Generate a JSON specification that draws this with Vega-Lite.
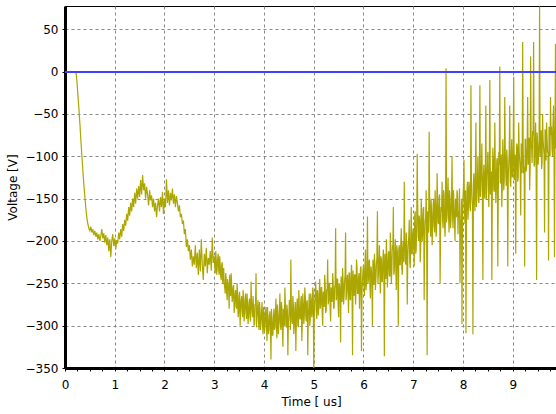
{
"$schema": "https://vega.github.io/schema/vega-lite/v6.json",
"width": 492,
"height": 362,
"autosize": {"type": "none"},
"padding": {"left": 65, "top": 6, "right": 0, "bottom": 46},
"background": "white",
"config": {
  "view": {"stroke": "black", "strokeWidth": 1},
  "axis": {
    "labelFont": "DejaVu Sans", "labelFontSize": 12, "labelColor": "black",
    "titleFont": "DejaVu Sans", "titleFontSize": 12, "titleFontWeight": "normal", "titleColor": "black",
    "domainColor": "black", "domainWidth": 3,
    "tickColor": "black", "tickSize": 3, "tickWidth": 1,
    "gridColor": "#888888", "gridDash": [3, 3], "gridWidth": 1
  }
},
"data": {"values": [
{"t":0.22,"v":0},{"t":0.24,"v":-12},{"t":0.26,"v":-28},{"t":0.28,"v":-44},{"t":0.30,"v":-62},{"t":0.32,"v":-82},{"t":0.34,"v":-100},{"t":0.36,"v":-118},{"t":0.38,"v":-134},{"t":0.40,"v":-148},{"t":0.42,"v":-162},{"t":0.44,"v":-173},{"t":0.46,"v":-180},{"t":0.48,"v":-185},{"t":0.50,"v":-188},
{"t":0.52,"v":-183},{"t":0.54,"v":-190},{"t":0.56,"v":-186},{"t":0.58,"v":-193},{"t":0.60,"v":-188},
{"t":0.62,"v":-195},{"t":0.64,"v":-190},{"t":0.66,"v":-198},{"t":0.68,"v":-192},{"t":0.70,"v":-200},
{"t":0.72,"v":-194},{"t":0.74,"v":-186},{"t":0.76,"v":-197},{"t":0.78,"v":-191},{"t":0.80,"v":-202},
{"t":0.82,"v":-193},{"t":0.84,"v":-205},{"t":0.86,"v":-196},{"t":0.88,"v":-212},{"t":0.90,"v":-198},
{"t":0.92,"v":-219},{"t":0.94,"v":-200},{"t":0.96,"v":-192},{"t":0.98,"v":-206},{"t":1.00,"v":-197},
{"t":1.02,"v":-210},{"t":1.04,"v":-199},{"t":1.06,"v":-203},{"t":1.08,"v":-190},{"t":1.10,"v":-198},
{"t":1.12,"v":-186},{"t":1.14,"v":-195},{"t":1.16,"v":-180},{"t":1.18,"v":-188},{"t":1.20,"v":-175},
{"t":1.22,"v":-182},{"t":1.24,"v":-168},{"t":1.26,"v":-176},{"t":1.28,"v":-160},{"t":1.30,"v":-170},
{"t":1.32,"v":-155},{"t":1.34,"v":-165},{"t":1.36,"v":-150},{"t":1.38,"v":-160},{"t":1.40,"v":-143},
{"t":1.42,"v":-156},{"t":1.44,"v":-138},{"t":1.46,"v":-150},{"t":1.48,"v":-135},{"t":1.50,"v":-148},
{"t":1.52,"v":-128},{"t":1.54,"v":-145},{"t":1.56,"v":-122},{"t":1.58,"v":-140},{"t":1.60,"v":-132},
{"t":1.62,"v":-150},{"t":1.64,"v":-136},{"t":1.66,"v":-145},{"t":1.68,"v":-158},{"t":1.70,"v":-140},
{"t":1.72,"v":-152},{"t":1.74,"v":-146},{"t":1.76,"v":-160},{"t":1.78,"v":-150},{"t":1.80,"v":-165},
{"t":1.82,"v":-155},{"t":1.84,"v":-172},{"t":1.86,"v":-158},{"t":1.88,"v":-150},{"t":1.90,"v":-165},
{"t":1.92,"v":-148},{"t":1.94,"v":-160},{"t":1.96,"v":-142},{"t":1.98,"v":-168},{"t":2.00,"v":-150},
{"t":2.02,"v":-160},{"t":2.04,"v":-127},{"t":2.06,"v":-155},{"t":2.08,"v":-140},{"t":2.10,"v":-158},
{"t":2.12,"v":-143},{"t":2.14,"v":-152},{"t":2.16,"v":-138},{"t":2.18,"v":-156},{"t":2.20,"v":-145},
{"t":2.22,"v":-160},{"t":2.24,"v":-147},{"t":2.26,"v":-155},{"t":2.28,"v":-165},{"t":2.30,"v":-158},
{"t":2.32,"v":-172},{"t":2.34,"v":-168},{"t":2.36,"v":-180},{"t":2.38,"v":-176},{"t":2.40,"v":-192},
{"t":2.42,"v":-186},{"t":2.44,"v":-207},{"t":2.46,"v":-198},{"t":2.48,"v":-212},{"t":2.50,"v":-205},
{"t":2.52,"v":-222},{"t":2.54,"v":-210},{"t":2.56,"v":-230},{"t":2.58,"v":-218},{"t":2.60,"v":-228},
{"t":2.62,"v":-205},{"t":2.64,"v":-232},{"t":2.66,"v":-214},{"t":2.68,"v":-240},{"t":2.70,"v":-210},
{"t":2.72,"v":-236},{"t":2.74,"v":-198},{"t":2.76,"v":-228},{"t":2.78,"v":-246},{"t":2.80,"v":-215},
{"t":2.82,"v":-230},{"t":2.84,"v":-208},{"t":2.86,"v":-238},{"t":2.88,"v":-220},{"t":2.90,"v":-228},
{"t":2.92,"v":-212},{"t":2.94,"v":-235},{"t":2.96,"v":-196},{"t":2.98,"v":-226},{"t":3.00,"v":-218},
{"t":3.02,"v":-238},{"t":3.04,"v":-222},{"t":3.06,"v":-232},{"t":3.08,"v":-215},{"t":3.10,"v":-240},
{"t":3.12,"v":-228},{"t":3.14,"v":-246},{"t":3.16,"v":-225},{"t":3.18,"v":-238},{"t":3.20,"v":-250},
{"t":3.22,"v":-262},{"t":3.24,"v":-245},{"t":3.26,"v":-270},{"t":3.28,"v":-252},{"t":3.30,"v":-280},
{"t":3.32,"v":-258},{"t":3.34,"v":-238},{"t":3.36,"v":-272},{"t":3.38,"v":-255},{"t":3.40,"v":-285},
{"t":3.42,"v":-262},{"t":3.44,"v":-278},{"t":3.46,"v":-250},{"t":3.48,"v":-290},{"t":3.50,"v":-265},
{"t":3.52,"v":-300},{"t":3.54,"v":-270},{"t":3.56,"v":-282},{"t":3.58,"v":-258},{"t":3.60,"v":-295},
{"t":3.62,"v":-268},{"t":3.64,"v":-285},{"t":3.66,"v":-262},{"t":3.68,"v":-298},{"t":3.70,"v":-272},
{"t":3.72,"v":-290},{"t":3.74,"v":-248},{"t":3.76,"v":-282},{"t":3.78,"v":-265},{"t":3.80,"v":-300},
{"t":3.82,"v":-275},{"t":3.84,"v":-238},{"t":3.86,"v":-288},{"t":3.88,"v":-270},{"t":3.90,"v":-305},
{"t":3.92,"v":-280},{"t":3.94,"v":-296},{"t":3.96,"v":-272},{"t":3.98,"v":-310},{"t":4.00,"v":-285},
{"t":4.02,"v":-300},{"t":4.04,"v":-278},{"t":4.06,"v":-318},{"t":4.08,"v":-290},{"t":4.10,"v":-306},
{"t":4.12,"v":-283},{"t":4.14,"v":-340},{"t":4.16,"v":-292},{"t":4.18,"v":-310},{"t":4.20,"v":-280},
{"t":4.22,"v":-302},{"t":4.24,"v":-268},{"t":4.26,"v":-315},{"t":4.28,"v":-285},{"t":4.30,"v":-298},
{"t":4.32,"v":-262},{"t":4.34,"v":-305},{"t":4.36,"v":-280},{"t":4.38,"v":-325},{"t":4.40,"v":-290},
{"t":4.42,"v":-255},{"t":4.44,"v":-300},{"t":4.46,"v":-275},{"t":4.48,"v":-335},{"t":4.50,"v":-288},
{"t":4.52,"v":-270},{"t":4.54,"v":-222},{"t":4.56,"v":-295},{"t":4.58,"v":-265},{"t":4.60,"v":-310},
{"t":4.62,"v":-280},{"t":4.64,"v":-330},{"t":4.66,"v":-275},{"t":4.68,"v":-300},{"t":4.70,"v":-258},
{"t":4.72,"v":-292},{"t":4.74,"v":-270},{"t":4.76,"v":-318},{"t":4.78,"v":-262},{"t":4.80,"v":-298},
{"t":4.82,"v":-255},{"t":4.84,"v":-288},{"t":4.86,"v":-272},{"t":4.88,"v":-335},{"t":4.90,"v":-280},
{"t":4.92,"v":-300},{"t":4.94,"v":-262},{"t":4.96,"v":-290},{"t":4.98,"v":-255},{"t":5.00,"v":-352},
{"t":5.02,"v":-270},{"t":5.04,"v":-248},{"t":5.06,"v":-292},{"t":5.08,"v":-260},{"t":5.10,"v":-280},
{"t":5.12,"v":-245},{"t":5.14,"v":-275},{"t":5.16,"v":-255},{"t":5.18,"v":-300},{"t":5.20,"v":-262},
{"t":5.22,"v":-240},{"t":5.24,"v":-285},{"t":5.26,"v":-258},{"t":5.28,"v":-222},{"t":5.30,"v":-270},
{"t":5.32,"v":-250},{"t":5.34,"v":-295},{"t":5.36,"v":-262},{"t":5.38,"v":-238},{"t":5.40,"v":-280},
{"t":5.42,"v":-255},{"t":5.44,"v":-185},{"t":5.46,"v":-268},{"t":5.48,"v":-245},{"t":5.50,"v":-290},
{"t":5.52,"v":-252},{"t":5.54,"v":-320},{"t":5.56,"v":-258},{"t":5.58,"v":-232},{"t":5.60,"v":-275},
{"t":5.62,"v":-248},{"t":5.64,"v":-190},{"t":5.66,"v":-262},{"t":5.68,"v":-240},{"t":5.70,"v":-285},
{"t":5.72,"v":-238},{"t":5.74,"v":-270},{"t":5.76,"v":-228},{"t":5.78,"v":-335},{"t":5.80,"v":-255},
{"t":5.82,"v":-240},{"t":5.84,"v":-275},{"t":5.86,"v":-222},{"t":5.88,"v":-262},{"t":5.90,"v":-245},
{"t":5.92,"v":-280},{"t":5.94,"v":-232},{"t":5.96,"v":-330},{"t":5.98,"v":-248},{"t":6.00,"v":-228},
{"t":6.02,"v":-265},{"t":6.04,"v":-210},{"t":6.06,"v":-250},{"t":6.08,"v":-171},{"t":6.10,"v":-245},
{"t":6.12,"v":-222},{"t":6.14,"v":-268},{"t":6.16,"v":-235},{"t":6.18,"v":-300},{"t":6.20,"v":-242},
{"t":6.22,"v":-215},{"t":6.24,"v":-258},{"t":6.26,"v":-228},{"t":6.28,"v":-165},{"t":6.30,"v":-240},
{"t":6.32,"v":-205},{"t":6.34,"v":-262},{"t":6.36,"v":-222},{"t":6.38,"v":-248},{"t":6.40,"v":-210},
{"t":6.42,"v":-336},{"t":6.44,"v":-232},{"t":6.46,"v":-198},{"t":6.48,"v":-255},{"t":6.50,"v":-215},
{"t":6.52,"v":-240},{"t":6.54,"v":-190},{"t":6.56,"v":-250},{"t":6.58,"v":-205},{"t":6.60,"v":-160},
{"t":6.62,"v":-235},{"t":6.64,"v":-198},{"t":6.66,"v":-258},{"t":6.68,"v":-212},{"t":6.70,"v":-300},
{"t":6.72,"v":-205},{"t":6.74,"v":-228},{"t":6.76,"v":-185},{"t":6.78,"v":-240},{"t":6.80,"v":-200},
{"t":6.82,"v":-130},{"t":6.84,"v":-222},{"t":6.86,"v":-190},{"t":6.88,"v":-275},{"t":6.90,"v":-205},
{"t":6.92,"v":-175},{"t":6.94,"v":-232},{"t":6.96,"v":-160},{"t":6.98,"v":-215},{"t":7.00,"v":-185},
{"t":7.02,"v":-230},{"t":7.04,"v":-165},{"t":7.06,"v":-210},{"t":7.08,"v":-97},{"t":7.10,"v":-195},
{"t":7.12,"v":-170},{"t":7.14,"v":-225},{"t":7.16,"v":-150},{"t":7.18,"v":-200},{"t":7.20,"v":-162},
{"t":7.22,"v":-270},{"t":7.24,"v":-178},{"t":7.26,"v":-140},{"t":7.28,"v":-335},{"t":7.30,"v":-190},
{"t":7.32,"v":-71},{"t":7.34,"v":-172},{"t":7.36,"v":-150},{"t":7.38,"v":-205},{"t":7.40,"v":-158},
{"t":7.42,"v":-182},{"t":7.44,"v":-140},{"t":7.46,"v":-195},{"t":7.48,"v":-120},{"t":7.50,"v":-178},
{"t":7.52,"v":-148},{"t":7.54,"v":-250},{"t":7.56,"v":-160},{"t":7.58,"v":-130},{"t":7.60,"v":-185},
{"t":7.62,"v":-145},{"t":7.64,"v":-195},{"t":7.66,"v":4},{"t":7.68,"v":-170},{"t":7.70,"v":-125},
{"t":7.72,"v":-190},{"t":7.74,"v":-150},{"t":7.76,"v":-175},{"t":7.78,"v":-100},{"t":7.80,"v":-185},
{"t":7.82,"v":-160},{"t":7.84,"v":-200},{"t":7.86,"v":-165},{"t":7.88,"v":-140},{"t":7.90,"v":-192},
{"t":7.92,"v":-170},{"t":7.94,"v":-250},{"t":7.96,"v":-175},{"t":7.98,"v":-298},{"t":8.00,"v":-150},
{"t":8.02,"v":-104},{"t":8.04,"v":-180},{"t":8.06,"v":-309},{"t":8.08,"v":-140},{"t":8.10,"v":-175},
{"t":8.12,"v":-130},{"t":8.14,"v":-160},{"t":8.16,"v":-16},{"t":8.18,"v":-150},{"t":8.20,"v":-310},
{"t":8.22,"v":-120},{"t":8.24,"v":-165},{"t":8.26,"v":-60},{"t":8.28,"v":-140},{"t":8.30,"v":-100},
{"t":8.32,"v":-155},{"t":8.34,"v":-16},{"t":8.36,"v":-130},{"t":8.38,"v":-85},{"t":8.40,"v":-246},
{"t":8.42,"v":-110},{"t":8.44,"v":-150},{"t":8.46,"v":-40},{"t":8.48,"v":-120},{"t":8.50,"v":-95},
{"t":8.52,"v":-160},{"t":8.54,"v":-10},{"t":8.56,"v":-135},{"t":8.58,"v":-246},{"t":8.60,"v":-90},
{"t":8.62,"v":-140},{"t":8.64,"v":-60},{"t":8.66,"v":-155},{"t":8.68,"v":-105},{"t":8.70,"v":-230},
{"t":8.72,"v":-95},{"t":8.74,"v":6},{"t":8.76,"v":-130},{"t":8.78,"v":-160},{"t":8.80,"v":-80},
{"t":8.82,"v":-140},{"t":8.84,"v":-30},{"t":8.86,"v":-120},{"t":8.88,"v":-92},{"t":8.90,"v":-230},
{"t":8.92,"v":-110},{"t":8.94,"v":-40},{"t":8.96,"v":-136},{"t":8.98,"v":-80},{"t":9.00,"v":-120},
{"t":9.02,"v":-6},{"t":9.04,"v":-100},{"t":9.06,"v":-215},{"t":9.08,"v":-85},{"t":9.10,"v":-130},
{"t":9.12,"v":-60},{"t":9.14,"v":-105},{"t":9.16,"v":-170},{"t":9.18,"v":-90},{"t":9.20,"v":35},
{"t":9.22,"v":-120},{"t":9.24,"v":-230},{"t":9.26,"v":-80},{"t":9.28,"v":-110},{"t":9.30,"v":-30},
{"t":9.32,"v":-95},{"t":9.34,"v":-140},{"t":9.36,"v":18},{"t":9.38,"v":-90},{"t":9.40,"v":-70},
{"t":9.42,"v":35},{"t":9.44,"v":-110},{"t":9.46,"v":-60},{"t":9.48,"v":-246},{"t":9.50,"v":-85},
{"t":9.52,"v":-100},{"t":9.54,"v":77},{"t":9.56,"v":-70},{"t":9.58,"v":-115},{"t":9.60,"v":-50},
{"t":9.62,"v":-90},{"t":9.64,"v":-190},{"t":9.66,"v":-75},{"t":9.68,"v":-60},{"t":9.70,"v":-95},
{"t":9.72,"v":-223},{"t":9.74,"v":-80},{"t":9.76,"v":-30},{"t":9.78,"v":-65},{"t":9.80,"v":-100},
{"t":9.82,"v":-40},{"t":9.84,"v":-219},{"t":9.86,"v":33},{"t":9.88,"v":-90},{"t":9.90,"v":-70},
{"t":3.01,"v":-230},{"t":3.03,"v":-212},{"t":3.05,"v":-240},{"t":3.07,"v":-220},{"t":3.09,"v":-235},{"t":3.11,"v":-218},{"t":3.13,"v":-242},{"t":3.15,"v":-228},{"t":3.17,"v":-250},{"t":3.19,"v":-232},
{"t":3.21,"v":-255},{"t":3.23,"v":-238},{"t":3.25,"v":-262},{"t":3.27,"v":-245},{"t":3.29,"v":-258},{"t":3.31,"v":-240},{"t":3.33,"v":-265},{"t":3.35,"v":-250},{"t":3.37,"v":-268},{"t":3.39,"v":-252},
{"t":3.41,"v":-275},{"t":3.43,"v":-258},{"t":3.45,"v":-280},{"t":3.47,"v":-262},{"t":3.49,"v":-285},{"t":3.51,"v":-260},{"t":3.53,"v":-282},{"t":3.55,"v":-265},{"t":3.57,"v":-290},{"t":3.59,"v":-270},
{"t":3.61,"v":-285},{"t":3.63,"v":-262},{"t":3.65,"v":-292},{"t":3.67,"v":-275},{"t":3.69,"v":-288},{"t":3.71,"v":-268},{"t":3.73,"v":-295},{"t":3.75,"v":-272},{"t":3.77,"v":-290},{"t":3.79,"v":-278},
{"t":3.81,"v":-298},{"t":3.83,"v":-275},{"t":3.85,"v":-302},{"t":3.87,"v":-280},{"t":3.89,"v":-295},{"t":3.91,"v":-272},{"t":3.93,"v":-305},{"t":3.95,"v":-285},{"t":3.97,"v":-298},{"t":3.99,"v":-278},
{"t":4.01,"v":-308},{"t":4.03,"v":-285},{"t":4.05,"v":-300},{"t":4.07,"v":-278},{"t":4.09,"v":-310},{"t":4.11,"v":-288},{"t":4.13,"v":-302},{"t":4.15,"v":-280},{"t":4.17,"v":-312},{"t":4.19,"v":-290},
{"t":4.21,"v":-305},{"t":4.23,"v":-282},{"t":4.25,"v":-300},{"t":4.27,"v":-275},{"t":4.29,"v":-310},{"t":4.31,"v":-285},{"t":4.33,"v":-298},{"t":4.35,"v":-272},{"t":4.37,"v":-305},{"t":4.39,"v":-280},
{"t":4.41,"v":-300},{"t":4.43,"v":-275},{"t":4.45,"v":-302},{"t":4.47,"v":-282},{"t":4.49,"v":-296},{"t":4.51,"v":-270},{"t":4.53,"v":-305},{"t":4.55,"v":-280},{"t":4.57,"v":-298},{"t":4.59,"v":-275},
{"t":4.61,"v":-300},{"t":4.63,"v":-272},{"t":4.65,"v":-295},{"t":4.67,"v":-268},{"t":4.69,"v":-302},{"t":4.71,"v":-278},{"t":4.73,"v":-292},{"t":4.75,"v":-265},{"t":4.77,"v":-298},{"t":4.79,"v":-275},
{"t":4.81,"v":-290},{"t":4.83,"v":-265},{"t":4.85,"v":-295},{"t":4.87,"v":-270},{"t":4.89,"v":-288},{"t":4.91,"v":-262},{"t":4.93,"v":-292},{"t":4.95,"v":-270},{"t":4.97,"v":-285},{"t":4.99,"v":-260},
{"t":5.01,"v":-290},{"t":5.03,"v":-265},{"t":5.05,"v":-282},{"t":5.07,"v":-258},{"t":5.09,"v":-288},{"t":5.11,"v":-262},{"t":5.13,"v":-280},{"t":5.15,"v":-255},{"t":5.17,"v":-285},{"t":5.19,"v":-260},
{"t":5.21,"v":-278},{"t":5.23,"v":-252},{"t":5.25,"v":-282},{"t":5.27,"v":-258},{"t":5.29,"v":-275},{"t":5.31,"v":-250},{"t":5.33,"v":-280},{"t":5.35,"v":-255},{"t":5.37,"v":-272},{"t":5.39,"v":-248},
{"t":5.41,"v":-278},{"t":5.43,"v":-252},{"t":5.45,"v":-270},{"t":5.47,"v":-245},{"t":5.49,"v":-275},{"t":5.51,"v":-250},{"t":5.53,"v":-268},{"t":5.55,"v":-242},{"t":5.57,"v":-272},{"t":5.59,"v":-248},
{"t":5.61,"v":-265},{"t":5.63,"v":-240},{"t":5.65,"v":-270},{"t":5.67,"v":-245},{"t":5.69,"v":-262},{"t":5.71,"v":-238},{"t":5.73,"v":-268},{"t":5.75,"v":-242},{"t":5.77,"v":-260},{"t":5.79,"v":-235},
{"t":5.81,"v":-265},{"t":5.83,"v":-240},{"t":5.85,"v":-258},{"t":5.87,"v":-232},{"t":5.89,"v":-262},{"t":5.91,"v":-238},{"t":5.93,"v":-255},{"t":5.95,"v":-230},{"t":5.97,"v":-260},{"t":5.99,"v":-235},
{"t":6.01,"v":-252},{"t":6.03,"v":-228},{"t":6.05,"v":-258},{"t":6.07,"v":-232},{"t":6.09,"v":-250},{"t":6.11,"v":-225},{"t":6.13,"v":-255},{"t":6.15,"v":-230},{"t":6.17,"v":-248},{"t":6.19,"v":-222},
{"t":6.21,"v":-252},{"t":6.23,"v":-228},{"t":6.25,"v":-245},{"t":6.27,"v":-220},{"t":6.29,"v":-250},{"t":6.31,"v":-225},{"t":6.33,"v":-242},{"t":6.35,"v":-218},{"t":6.37,"v":-248},{"t":6.39,"v":-222},
{"t":6.41,"v":-240},{"t":6.43,"v":-215},{"t":6.45,"v":-245},{"t":6.47,"v":-220},{"t":6.49,"v":-238},{"t":6.51,"v":-212},{"t":6.53,"v":-242},{"t":6.55,"v":-218},{"t":6.57,"v":-235},{"t":6.59,"v":-210},
{"t":6.61,"v":-240},{"t":6.63,"v":-215},{"t":6.65,"v":-232},{"t":6.67,"v":-205},{"t":6.69,"v":-235},{"t":6.71,"v":-210},{"t":6.73,"v":-228},{"t":6.75,"v":-202},{"t":6.77,"v":-232},{"t":6.79,"v":-208},
{"t":6.81,"v":-225},{"t":6.83,"v":-198},{"t":6.85,"v":-228},{"t":6.87,"v":-205},{"t":6.89,"v":-220},{"t":6.91,"v":-195},{"t":6.93,"v":-225},{"t":6.95,"v":-200},{"t":6.97,"v":-215},{"t":6.99,"v":-192},
{"t":7.01,"v":-205},{"t":7.03,"v":-170},{"t":7.05,"v":-215},{"t":7.07,"v":-180},{"t":7.09,"v":-160},{"t":7.11,"v":-200},{"t":7.13,"v":-175},{"t":7.15,"v":-210},{"t":7.17,"v":-168},{"t":7.19,"v":-190},
{"t":7.21,"v":-160},{"t":7.23,"v":-205},{"t":7.25,"v":-172},{"t":7.27,"v":-198},{"t":7.29,"v":-165},{"t":7.31,"v":-188},{"t":7.33,"v":-150},{"t":7.35,"v":-195},{"t":7.37,"v":-170},{"t":7.39,"v":-182},
{"t":7.41,"v":-150},{"t":7.43,"v":-190},{"t":7.45,"v":-160},{"t":7.47,"v":-185},{"t":7.49,"v":-155},{"t":7.51,"v":-180},{"t":7.53,"v":-145},{"t":7.55,"v":-190},{"t":7.57,"v":-165},{"t":7.59,"v":-175},
{"t":7.61,"v":-140},{"t":7.63,"v":-182},{"t":7.65,"v":-155},{"t":7.67,"v":-178},{"t":7.69,"v":-148},{"t":7.71,"v":-170},{"t":7.73,"v":-140},{"t":7.75,"v":-185},{"t":7.77,"v":-150},{"t":7.79,"v":-168},
{"t":7.81,"v":-140},{"t":7.83,"v":-178},{"t":7.85,"v":-150},{"t":7.87,"v":-172},{"t":7.89,"v":-145},{"t":7.91,"v":-165},{"t":7.93,"v":-138},{"t":7.95,"v":-180},{"t":7.97,"v":-150},{"t":7.99,"v":-170},
{"t":8.01,"v":-135},{"t":8.03,"v":-165},{"t":8.05,"v":-140},{"t":8.07,"v":-172},{"t":8.09,"v":-130},{"t":8.11,"v":-160},{"t":8.13,"v":-138},{"t":8.15,"v":-165},{"t":8.17,"v":-128},{"t":8.19,"v":-158},
{"t":8.21,"v":-132},{"t":8.23,"v":-150},{"t":8.25,"v":-118},{"t":8.27,"v":-160},{"t":8.29,"v":-130},{"t":8.31,"v":-152},{"t":8.33,"v":-120},{"t":8.35,"v":-148},{"t":8.37,"v":-115},{"t":8.39,"v":-150},
{"t":8.41,"v":-125},{"t":8.43,"v":-145},{"t":8.45,"v":-110},{"t":8.47,"v":-150},{"t":8.49,"v":-120},{"t":8.51,"v":-140},{"t":8.53,"v":-108},{"t":8.55,"v":-145},{"t":8.57,"v":-118},{"t":8.59,"v":-138},
{"t":8.61,"v":-105},{"t":8.63,"v":-142},{"t":8.65,"v":-115},{"t":8.67,"v":-135},{"t":8.69,"v":-102},{"t":8.71,"v":-140},{"t":8.73,"v":-110},{"t":8.75,"v":-132},{"t":8.77,"v":-98},{"t":8.79,"v":-138},
{"t":8.81,"v":-108},{"t":8.83,"v":-128},{"t":8.85,"v":-95},{"t":8.87,"v":-135},{"t":8.89,"v":-105},{"t":8.91,"v":-125},{"t":8.93,"v":-92},{"t":8.95,"v":-130},{"t":8.97,"v":-100},{"t":8.99,"v":-125},
{"t":9.01,"v":-90},{"t":9.03,"v":-128},{"t":9.05,"v":-98},{"t":9.07,"v":-120},{"t":9.09,"v":-88},{"t":9.11,"v":-125},{"t":9.13,"v":-95},{"t":9.15,"v":-115},{"t":9.17,"v":-85},{"t":9.19,"v":-120},
{"t":9.21,"v":-92},{"t":9.23,"v":-112},{"t":9.25,"v":-80},{"t":9.27,"v":-118},{"t":9.29,"v":-90},{"t":9.31,"v":-110},{"t":9.33,"v":-78},{"t":9.35,"v":-115},{"t":9.37,"v":-88},{"t":9.39,"v":-108},
{"t":9.41,"v":-75},{"t":9.43,"v":-112},{"t":9.45,"v":-85},{"t":9.47,"v":-105},{"t":9.49,"v":-72},{"t":9.51,"v":-110},{"t":9.53,"v":-82},{"t":9.55,"v":-100},{"t":9.57,"v":-70},{"t":9.59,"v":-108},
{"t":9.61,"v":-80},{"t":9.63,"v":-98},{"t":9.65,"v":-68},{"t":9.67,"v":-105},{"t":9.69,"v":-78},{"t":9.71,"v":-95},{"t":9.73,"v":-65},{"t":9.75,"v":-100},{"t":9.77,"v":-75},{"t":9.79,"v":-92},
{"t":9.81,"v":-62},{"t":9.83,"v":-98},{"t":9.85,"v":-72},{"t":9.87,"v":-90},{"t":9.89,"v":-65}
]},
"layer": [
  {
    "mark": {"type": "line", "color": "#aca600", "strokeWidth": 1.2, "clip": true},
    "encoding": {
      "x": {"field": "t", "type": "quantitative",
        "scale": {"domain": [0, 9.89], "nice": false, "zero": false},
        "axis": {
          "title": "Time [ us]", "titlePadding": 6,
          "values": [0,0.25,0.5,0.75,1,1.25,1.5,1.75,2,2.25,2.5,2.75,3,3.25,3.5,3.75,4,4.25,4.5,4.75,5,5.25,5.5,5.75,6,6.25,6.5,6.75,7,7.25,7.5,7.75,8,8.25,8.5,8.75,9,9.25,9.5,9.75],
          "format": ".0f",
          "labelExpr": "datum.value % 1 === 0 ? datum.label : ''",
          "labelPadding": 8,
          "labelFlush": false,
          "labelOverlap": false,
          "gridOpacity": {"condition": {"test": "datum.value % 1 === 0 && datum.value > 0", "value": 1}, "value": 0}
        }
      },
      "y": {"field": "v", "type": "quantitative",
        "scale": {"domain": [-350, 77.5], "nice": false, "zero": false},
        "axis": {
          "title": "Voltage [V]", "titlePadding": 6,
          "values": [-350,-337.5,-325,-312.5,-300,-287.5,-275,-262.5,-250,-237.5,-225,-212.5,-200,-187.5,-175,-162.5,-150,-137.5,-125,-112.5,-100,-87.5,-75,-62.5,-50,-37.5,-25,-12.5,0,12.5,25,37.5,50,62.5,75],
          "format": ".0f",
          "labelExpr": "datum.value % 50 === 0 ? datum.label : ''",
          "labelPadding": 4,
          "labelFlush": false,
          "labelOverlap": false,
          "gridOpacity": {"condition": {"test": "datum.value % 50 === 0 && datum.value > -350", "value": 1}, "value": 0}
        }
      }
    }
  },
  {
    "mark": {"type": "rule", "color": "#4040ff", "strokeWidth": 1.2},
    "encoding": {"y": {"datum": 0}}
  }
]
}
